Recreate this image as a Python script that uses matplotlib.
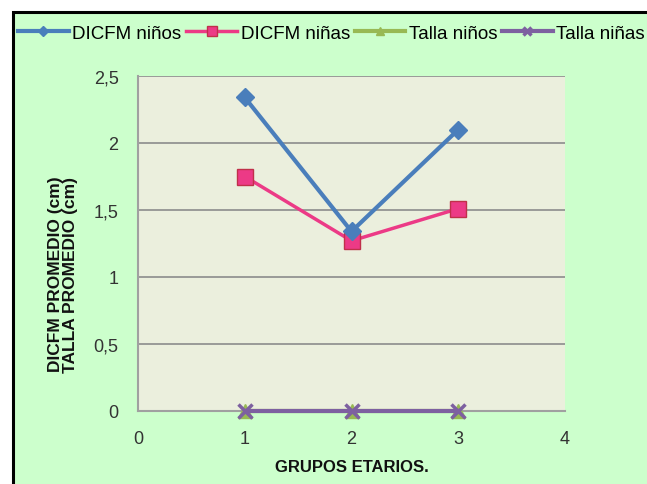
import matplotlib
matplotlib.use("Agg")
import matplotlib.pyplot as plt
from matplotlib.patches import Rectangle

# Data
grupos = [1, 2, 3]
dicfm_ninos = [2.34, 1.34, 2.10]
dicfm_ninas = [1.75, 1.27, 1.51]
talla_ninos = [0, 0, 0]
talla_ninas = [0, 0, 0]
series_names = ["DICFM niños", "DICFM niñas", "Talla niños", "Talla niñas"]
yticks = [0, 0.5, 1, 1.5, 2, 2.5]
ytick_labels = ["0", "0,5", "1", "1,5", "2", "2,5"]
xticks = [0, 1, 2, 3, 4]

plt.rcParams["font.family"] = ["Liberation Sans", "DejaVu Sans"]

W, H = 647, 485
fig = plt.figure(figsize=(W / 100, H / 100), dpi=100, facecolor="white")

# Green chart background with black frame on the visible sides
fig.patches.append(Rectangle((13 / W, -0.1), 1.2, 1 - 13 / H + 0.1,
                             transform=fig.transFigure, facecolor="#CCFFCC",
                             edgecolor="black", linewidth=2.2, zorder=-5))

ax = fig.add_axes([138 / W, 1 - 412 / H, (565 - 138) / W, (412 - 77) / H])
ax.set_zorder(1)
ax.set_facecolor("#EBEFDD")

blue, pink, green, purple = "#4A7EBB", "#EC3A86", "#98B954", "#7D60A0"
ax.plot(grupos, talla_ninos, color=green, lw=3, marker="^", ms=10,
        label=series_names[2], zorder=3, clip_on=False)
ax.plot(grupos, talla_ninas, color=purple, lw=3, marker="x", ms=10, mew=2.5,
        label=series_names[3], zorder=4, clip_on=False)
ax.plot(grupos, dicfm_ninas, color=pink, lw=2.5, marker="s", ms=11,
        mec="#C0304A", label=series_names[1], zorder=5)
ax.plot(grupos, dicfm_ninos, color=blue, lw=3, marker="D", ms=9,
        label=series_names[0], zorder=6)

ax.set_xlim(0, 4)
ax.set_ylim(0, 2.5)
ax.set_xticks(xticks)
ax.set_yticks(yticks)
ax.set_yticklabels(ytick_labels)
ax.tick_params(axis="both", length=0, labelsize=13, labelcolor="#333333")
ax.tick_params(axis="y", pad=14)
ax.tick_params(axis="x", pad=14)
ax.yaxis.grid(True, color="#8C8C8C", lw=1.2)
ax.set_axisbelow(True)
for s in ["top", "right"]:
    ax.spines[s].set_visible(False)
for s in ["left", "bottom"]:
    ax.spines[s].set_color("#A0A0A0")
    ax.spines[s].set_linewidth(1.5)

ax.set_ylabel("DICFM PROMEDIO (cm)\nTALLA PROMEDIO (cm)", fontsize=12.5,
              fontweight="bold", color="#111111", linespacing=1.0)
ax.yaxis.set_label_coords(-0.14, 0.41)
ax.set_xlabel("GRUPOS ETARIOS.", fontsize=12, fontweight="bold",
              color="#111111", labelpad=8)

handles, labels = ax.get_legend_handles_labels()
order = [3, 2, 0, 1]
fig.legend([handles[i] for i in order], [labels[i] for i in order],
           loc="center left", bbox_to_anchor=(18 / W, 1 - 34 / H), ncol=4,
           frameon=False, fontsize=13.5, handlelength=2.7, handletextpad=0.2,
           columnspacing=0.25, borderaxespad=0, borderpad=0, markerscale=0.6)

fig.savefig("out.png", dpi=100, facecolor=fig.get_facecolor())
